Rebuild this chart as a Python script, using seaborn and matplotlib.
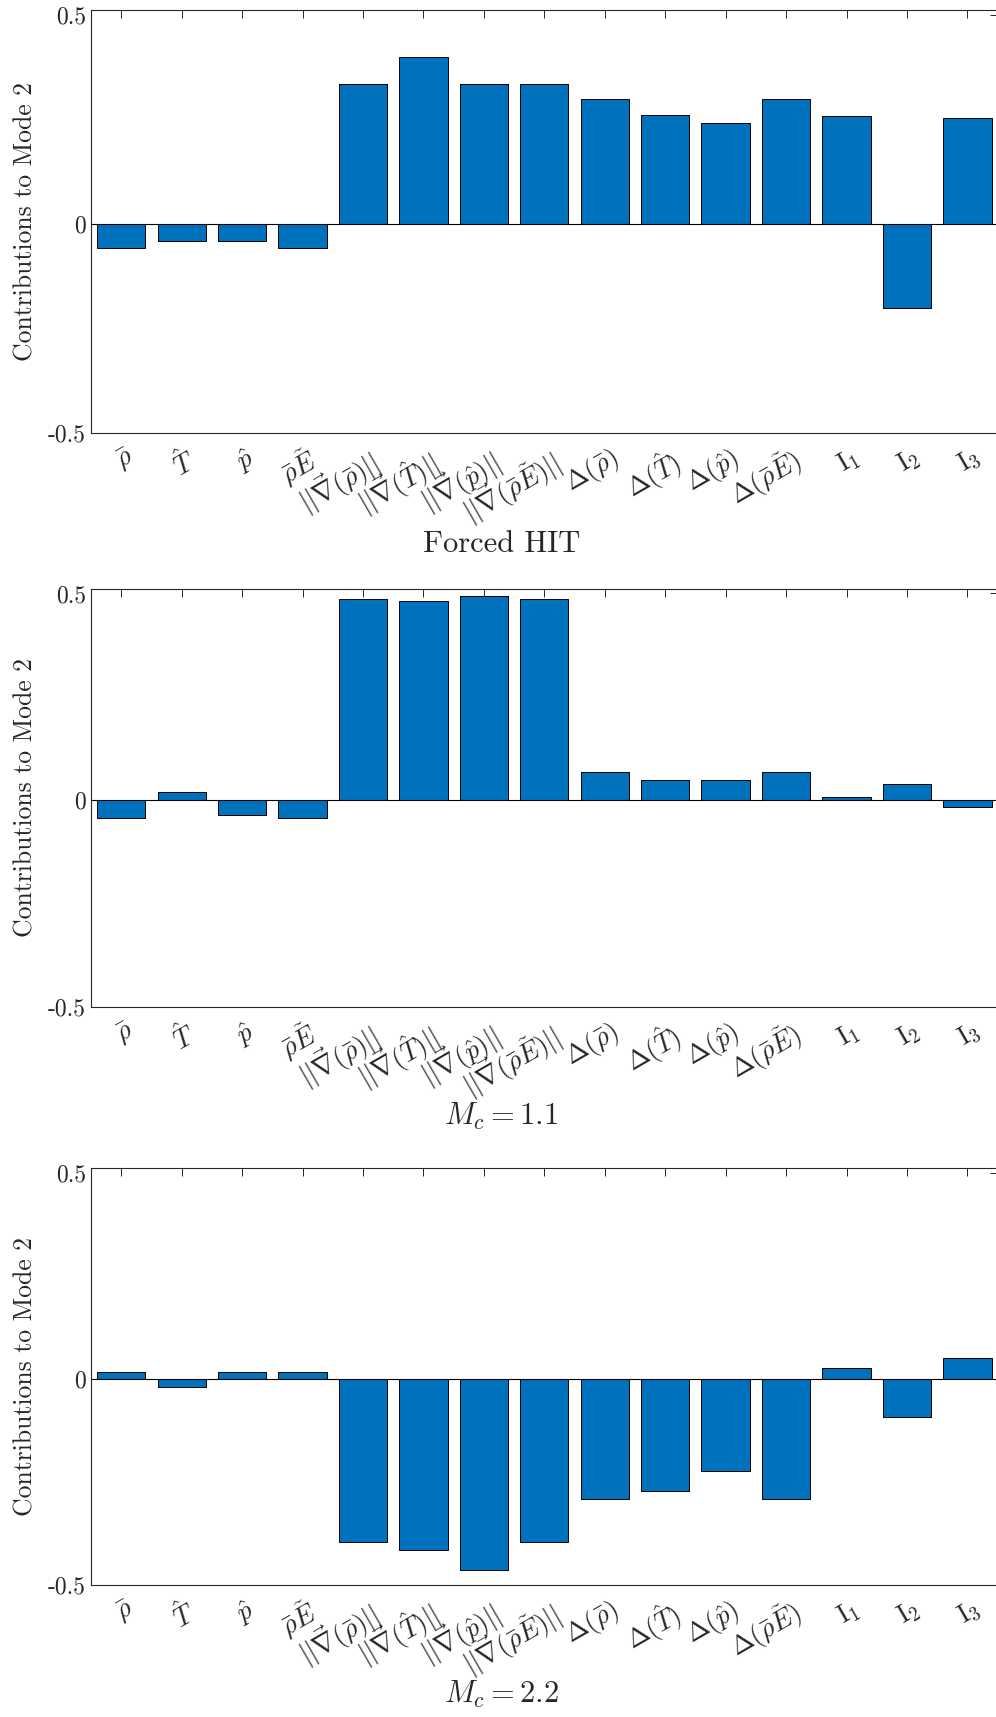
import numpy as np
import pandas as pd
import matplotlib
matplotlib.use("Agg")
import matplotlib.pyplot as plt
import matplotlib.transforms as mtransforms
import seaborn as sns

# feature labels (x axis)
features = [r'$\bar{\rho}$', r'$\hat{T}$', r'$\hat{p}$', r'$\bar{\rho}\tilde{E}$',
            r'$||\vec{\nabla}(\bar{\rho})||$', r'$||\vec{\nabla}(\hat{T})||$',
            r'$||\vec{\nabla}(\hat{p})||$', r'$||\vec{\nabla}(\bar{\rho}\tilde{E})||$',
            r'$\Delta(\bar{\rho})$', r'$\Delta(\hat{T})$', r'$\Delta(\hat{p})$',
            r'$\Delta(\bar{\rho}\tilde{E})$', r'$\mathrm{I}_1$', r'$\mathrm{I}_2$', r'$\mathrm{I}_3$']

# contributions to mode 2 for each case
forced_hit = [-0.058, -0.042, -0.042, -0.058, 0.335, 0.398, 0.335, 0.335,
              0.298, 0.259, 0.241, 0.298, 0.257, -0.202, 0.254]
mc_11 = [-0.042, 0.021, -0.036, -0.042, 0.487, 0.482, 0.495, 0.487,
         0.068, 0.049, 0.049, 0.068, 0.008, 0.039, -0.016]
mc_22 = [0.016, -0.021, 0.016, 0.016, -0.395, -0.414, -0.463, -0.395,
         -0.291, -0.272, -0.223, -0.291, 0.026, -0.092, 0.050]

cases = ['Forced HIT', r'$M_c = 1.1$', r'$M_c = 2.2$']
values = [forced_hit, mc_11, mc_22]

sns.set_style("white")
plt.rcParams['font.family'] = 'serif'
plt.rcParams['font.serif'] = ['cmr10', 'DejaVu Serif']
plt.rcParams['mathtext.fontset'] = 'cm'
plt.rcParams['axes.unicode_minus'] = False

fig = plt.figure(figsize=(9.96, 17.17), dpi=100)
# axes boxes [left, bottom, width, height] in figure fractions
# (right spine sits just past the right edge, like the cropped original)
boxes = [[0.0914, 0.7478, 0.9102, 0.2464],
         [0.0914, 0.4135, 0.9102, 0.2435],
         [0.0914, 0.0769, 0.9102, 0.2428]]

for box, case, vals in zip(boxes, cases, values):
    ax = fig.add_axes(box)
    df = pd.DataFrame({'feature': features, 'value': vals})
    sns.barplot(data=df, x='feature', y='value', color='#0072BD', saturation=1,
                width=0.8, edgecolor='black', linewidth=0.7, ax=ax)
    ax.axhline(0, color='black', lw=0.8, zorder=3)
    ax.set_xlim(-0.5, 14.5)
    ax.set_ylim(-0.5, 0.511)
    ax.set_yticks([-0.5, 0, 0.5])
    ax.set_yticklabels(['-0.5', '0', '0.5'], fontsize=17)
    ax.set_xlabel('')
    ax.set_ylabel('Contributions to Mode 2', fontsize=18.5, labelpad=8)
    ax.tick_params(direction='in', length=5.8, width=0.7, top=True, right=True,
                   colors='#262626')
    ax.tick_params(axis='x', labelsize=19.5, pad=8)
    offset = mtransforms.ScaledTranslation(4 / 100, 0, fig.dpi_scale_trans)
    for lab in ax.get_xticklabels():
        lab.set_rotation(30)
        lab.set_ha('right')
        lab.set_va('top')
        lab.set_rotation_mode('anchor')
        lab.set_transform(lab.get_transform() + offset)
    for s in ax.spines.values():
        s.set_color('#262626')
        s.set_linewidth(0.8)
    ax.text(0.4525, -0.262, case, transform=ax.transAxes, ha='center', va='center',
            fontsize=22)

fig.savefig('out.png', dpi=100)
